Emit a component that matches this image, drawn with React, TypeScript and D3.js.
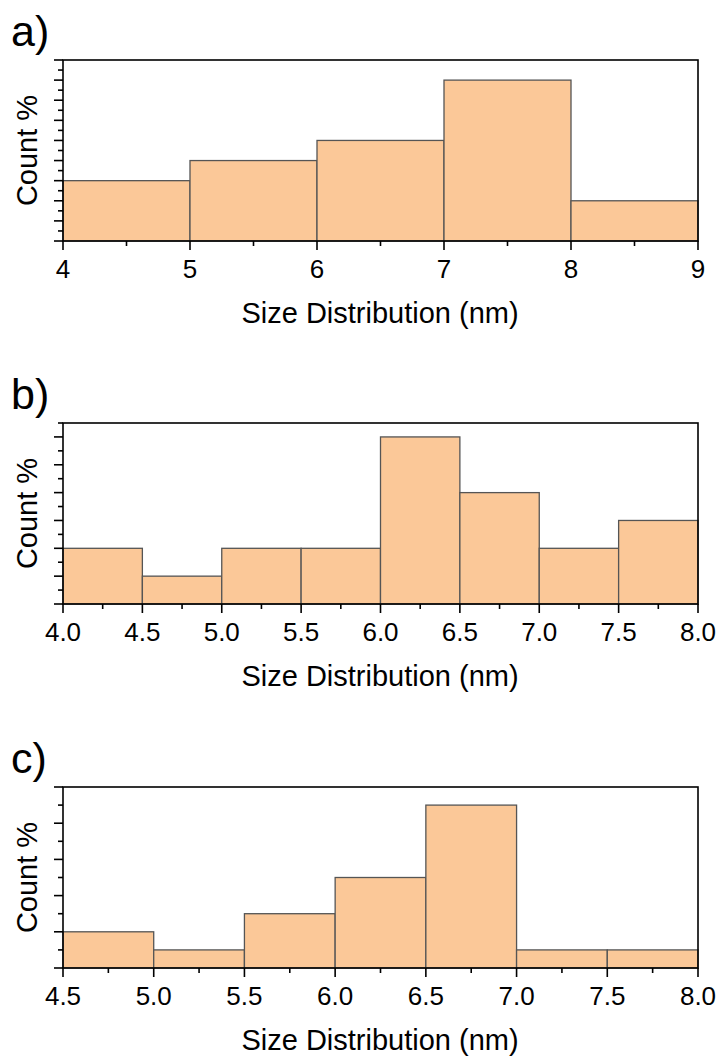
import React from "react";
import { scaleLinear, range, format } from "d3";

// panel a
const edgesA = [4, 5, 6, 7, 8, 9];
const countsA = [3, 4, 5, 8, 2];
const yMaxA = 9;

// panel b
const edgesB = [4.0, 4.5, 5.0, 5.5, 6.0, 6.5, 7.0, 7.5, 8.0];
const countsB = [2, 1, 2, 2, 6, 4, 2, 3];
const yMaxB = 6.5;

// panel c
const edgesC = [4.5, 5.0, 5.5, 6.0, 6.5, 7.0, 7.5, 8.0];
const countsC = [1, 0.5, 1.5, 2.5, 4.5, 0.5, 0.5];
const yMaxC = 5;

const xTitle = "Size Distribution (nm)";
const yTitle = "Count %";

const W = 719;
const H = 1056;
const left = 63;
const right = 698;
const plotH = 181;
const font = "'Liberation Sans', Arial, Helvetica, sans-serif";
const fill = "#fbc898";

type PanelProps = {
  top: number;
  tag: string;
  edges: number[];
  counts: number[];
  yMax: number;
  fmt: string;
};

function Panel({ top, tag, edges, counts, yMax, fmt }: PanelProps) {
  const bottom = top + plotH;
  const x = scaleLinear()
    .domain([edges[0], edges[edges.length - 1]])
    .range([left, right]);
  const y = scaleLinear().domain([0, yMax]).range([bottom, top]);
  const f = format(fmt);

  const minorX = edges.slice(0, -1).map((e, i) => (e + edges[i + 1]) / 2);
  const majorY = range(0, Math.floor(yMax) + 0.001, 1);
  const minorY = range(0.5, yMax + 0.001, 1);

  return (
    <g>
      <text x={11} y={top - 14} fontSize={43} fontFamily={font}>
        {tag}
      </text>
      {counts.map((c, i) => (
        <rect
          key={i}
          x={x(edges[i])}
          y={y(c)}
          width={x(edges[i + 1]) - x(edges[i])}
          height={bottom - y(c)}
          fill={fill}
          stroke="#555"
          strokeWidth={1.3}
        />
      ))}
      <rect
        x={left}
        y={top}
        width={right - left}
        height={plotH}
        fill="none"
        stroke="#000"
        strokeWidth={1.6}
      />
      {/* x ticks */}
      {edges.map((e) => (
        <g key={"xm" + e}>
          <line x1={x(e)} x2={x(e)} y1={bottom} y2={bottom + 9} stroke="#000" strokeWidth={1.6} />
          <text
            x={x(e)}
            y={bottom + 36.5}
            fontSize={26}
            fontFamily={font}
            textAnchor="middle"
          >
            {f(e)}
          </text>
        </g>
      ))}
      {minorX.map((e) => (
        <line key={"xn" + e} x1={x(e)} x2={x(e)} y1={bottom} y2={bottom + 5} stroke="#000" strokeWidth={1.6} />
      ))}
      {/* y ticks */}
      {majorY.map((v) => (
        <line key={"ym" + v} x1={left - 9} x2={left} y1={y(v)} y2={y(v)} stroke="#000" strokeWidth={1.6} />
      ))}
      {minorY.map((v) => (
        <line key={"yn" + v} x1={left - 5} x2={left} y1={y(v)} y2={y(v)} stroke="#000" strokeWidth={1.6} />
      ))}
      <text
        x={(left + right) / 2 - 0.5}
        y={bottom + 82}
        fontSize={29}
        fontFamily={font}
        textAnchor="middle"
      >
        {xTitle}
      </text>
      <text
        transform={`translate(37,${(top + bottom) / 2}) rotate(-90)`}
        fontSize={29}
        fontFamily={font}
        textAnchor="middle"
      >
        {yTitle}
      </text>
    </g>
  );
}

export default function App() {
  return (
    <svg
      width={W}
      height={H}
      style={{ position: "absolute", left: 0, top: 0, background: "#fff" }}
    >
      <Panel top={60} tag="a)" edges={edgesA} counts={countsA} yMax={yMaxA} fmt="d" />
      <Panel top={423} tag="b)" edges={edgesB} counts={countsB} yMax={yMaxB} fmt=".1f" />
      <Panel top={787} tag="c)" edges={edgesC} counts={countsC} yMax={yMaxC} fmt=".1f" />
    </svg>
  );
}
